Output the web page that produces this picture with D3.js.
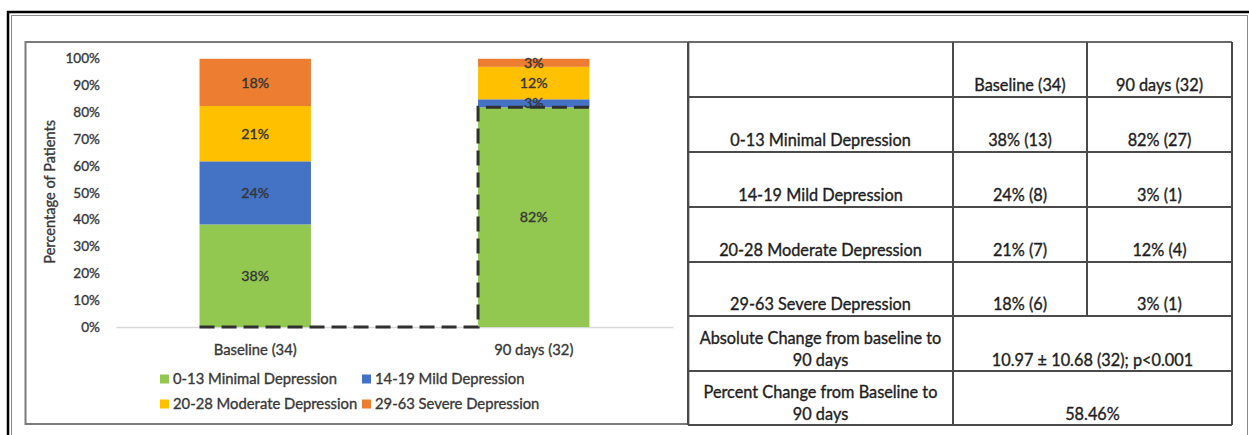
<!DOCTYPE html>
<html>
<head>
<meta charset="utf-8">
<script src="https://cdn.jsdelivr.net/npm/d3@7"></script>
<style>
  html, body { margin: 0; padding: 0; background: #fff; }
  svg { display: block; font-family: Lato, "Open Sans", sans-serif; }
  svg text { stroke: currentColor; stroke-width: 0.35px; }
</style>
</head>
<body>
<svg id="fig" width="1249" height="435"></svg>
<script>
// ---- data ----
const periods = ["Baseline (34)", "90 days (32)"];
const severity = ["0-13 Minimal Depression", "14-19 Mild Depression",
                  "20-28 Moderate Depression", "29-63 Severe Depression"];
const baselinePct = [38.2, 23.5, 20.6, 17.6];   // % of patients per severity band
const day90Pct    = [81.8, 3.0, 12.1, 3.0];
const colors = ["#92c850", "#4472c4", "#ffc000", "#ed7d31"];
const yTicks = [0, 10, 20, 30, 40, 50, 60, 70, 80, 90, 100];

// summary table
const tableHeader = ["", "Baseline (34)", "90 days (32)"];
const tableRowLabels = ["0-13 Minimal Depression", "14-19 Mild Depression",
                        "20-28 Moderate  Depression", "29-63 Severe Depression"];
const tableBaseline = ["38% (13)", "24% (8)", "21% (7)", "18% (6)"];
const tableDay90 = ["82% (27)", "3% (1)", "12% (4)", "3% (1)"];
const absChangeLabel = ["Absolute Change from baseline to", "90 days"];
const absChangeValue = "10.97 \u00b1 10.68 (32); p<0.001";
const pctChangeLabel = ["Percent Change from Baseline to", "90 days"];
const pctChangeValue = "58.46%";

const svg = d3.select("#fig");
const chartInk = "#383838";
const tableInk = "#1e1e1e";

// ---- outer frame ----
const frame = svg.append("g");
frame.append("line").attr("x1", 7).attr("x2", 1249).attr("y1", 12).attr("y2", 12)
  .attr("stroke", "#000").attr("stroke-width", 2.5);
frame.append("line").attr("x1", 8).attr("x2", 8).attr("y1", 11).attr("y2", 435)
  .attr("stroke", "#000").attr("stroke-width", 2.5);
frame.append("line").attr("x1", 11).attr("x2", 1248).attr("y1", 15.5).attr("y2", 15.5)
  .attr("stroke", "#8a8a8a").attr("stroke-width", 1);
frame.append("line").attr("x1", 11.5).attr("x2", 11.5).attr("y1", 15).attr("y2", 435)
  .attr("stroke", "#8a8a8a").attr("stroke-width", 1);
frame.append("line").attr("x1", 1247.5).attr("x2", 1247.5).attr("y1", 15).attr("y2", 435)
  .attr("stroke", "#8a8a8a").attr("stroke-width", 1);

// chart panel border
svg.append("rect").attr("x", 25.5).attr("y", 42).attr("width", 663).attr("height", 382)
  .attr("fill", "none").attr("stroke", "#7a7a7a").attr("stroke-width", 2);

// ---- stacked bar chart ----
const x = d3.scaleBand().domain(periods).range([116, 673])
  .paddingInner(0.6).paddingOuter(0.3);
const y = d3.scaleLinear().domain([0, 100]).range([327, 58.5]);

const rows = periods.map((p, i) => {
  const o = { period: p };
  severity.forEach((s, j) => { o[s] = (i === 0 ? baselinePct : day90Pct)[j]; });
  return o;
});
const stacked = d3.stack().keys(severity)(rows);

// category axis with its light baseline
const xAxis = d3.axisBottom(x).tickSize(0).tickPadding(17);
const gx = svg.append("g").attr("transform", `translate(0,${y(0)})`).call(xAxis);
gx.select(".domain").attr("stroke", "#d9d9d9").attr("stroke-width", 1.5);
gx.selectAll("text").attr("font-size", 14.8).attr("fill", chartInk).style("color", chartInk)
  .attr("font-family", "Lato, sans-serif");

const yAxis = d3.axisLeft(y).tickValues(yTicks).tickSize(0).tickPadding(16)
  .tickFormat(d => d + "%");
const gy = svg.append("g").attr("transform", `translate(${x.range()[0]},0)`).call(yAxis);
gy.select(".domain").remove();
gy.selectAll("text").attr("font-size", 13.6).attr("fill", chartInk).style("color", chartInk)
  .attr("font-family", "Lato, sans-serif");

svg.append("text")
  .attr("transform", `translate(51,${(y(0) + y(100)) / 2 - 1}) rotate(-90)`)
  .attr("text-anchor", "middle").attr("dominant-baseline", "middle")
  .attr("font-size", 14.6).attr("fill", chartInk).style("color", chartInk)
  .text("Percentage of Patients");

const layers = svg.append("g").selectAll("g").data(stacked).join("g")
  .attr("fill", (d, i) => colors[i]);
layers.selectAll("rect").data(d => d).join("rect")
  .attr("x", d => x(d.data.period))
  .attr("width", x.bandwidth())
  .attr("y", d => y(d[1]))
  .attr("height", d => y(d[0]) - y(d[1]));

const fmt = v => Math.round(v) + "%";
const labels = svg.append("g").attr("font-size", 14.2).attr("fill", "#353535")
  .style("color", "#353535").attr("text-anchor", "middle");
stacked.forEach(layer => {
  layer.forEach(d => {
    labels.append("text")
      .attr("x", x(d.data.period) + x.bandwidth() / 2)
      .attr("y", (y(d[0]) + y(d[1])) / 2)
      .attr("dy", "0.36em")
      .text(fmt(d[1] - d[0]));
  });
});

// dashed outline of the minimal-depression share
const p0 = periods[0], p1 = periods[1];
const minimalTop = day90Pct[0];
const dashPts = [
  [x(p0), y(0)],
  [x(p1), y(0)],
  [x(p1), y(minimalTop)],
  [x(p1) + x.bandwidth(), y(minimalTop)]
];
svg.append("path")
  .attr("d", d3.line()(dashPts))
  .attr("fill", "none").attr("stroke", "#303030").attr("stroke-width", 3)
  .attr("stroke-dasharray", "15,7");

// legend
const legend = svg.append("g").attr("font-size", 14.8).attr("fill", chartInk)
  .style("color", chartInk);
const legCols = [160, 362], legRows = [379, 404];
severity.forEach((s, i) => {
  const lx = legCols[i % 2], ly = legRows[Math.floor(i / 2)];
  legend.append("rect").attr("x", lx).attr("y", ly - 4.5).attr("width", 9).attr("height", 9)
    .attr("fill", colors[i]).style("stroke", "none");
  legend.append("text").attr("x", lx + 13).attr("y", ly).attr("dy", "0.36em").text(s);
});

// ---- summary table ----
const colX = [688, 953, 1087, 1232];
const rowY = [42, 97, 152, 207, 262, 316, 371, 425];
const tbl = svg.append("g");
const tline = "#4a4a4a";

const cellText = (cx, by, t) => tbl.append("text")
  .attr("x", cx).attr("y", by).attr("text-anchor", "middle")
  .attr("font-size", 16.3).attr("fill", tableInk).style("color", tableInk).text(t);

const mid = (a, b) => (a + b) / 2;
tableHeader.forEach((t, c) => cellText(mid(colX[c], colX[c + 1]), rowY[1] - 6, t));
tableRowLabels.forEach((t, r) => {
  const by = rowY[r + 2] - 6;
  cellText(mid(colX[0], colX[1]), by, t);
  cellText(mid(colX[1], colX[2]), by, tableBaseline[r]);
  cellText(mid(colX[2], colX[3]), by, tableDay90[r]);
});
[[absChangeLabel, absChangeValue, 5], [pctChangeLabel, pctChangeValue, 6]].forEach(([lab, val, r]) => {
  const by = rowY[r + 1] - 5;
  cellText(mid(colX[0], colX[1]), by - 22, lab[0]);
  cellText(mid(colX[0], colX[1]), by, lab[1]);
  cellText(mid(colX[1], colX[3]), by, val);
});

// grid lines
rowY.forEach((ry, i) => {
  tbl.append("line").attr("x1", colX[0]).attr("x2", colX[3]).attr("y1", ry).attr("y2", ry)
    .attr("stroke", i === 0 ? "#6a6a6a" : tline).attr("stroke-width", 2);
});
[0, 3].forEach(c => tbl.append("line").attr("x1", colX[c]).attr("x2", colX[c])
  .attr("y1", rowY[0]).attr("y2", rowY[7]).attr("stroke", tline).attr("stroke-width", 2));
[1, 2].forEach(c => tbl.append("line").attr("x1", colX[c]).attr("x2", colX[c])
  .attr("y1", rowY[0]).attr("y2", c === 1 ? rowY[7] : rowY[5])
  .attr("stroke", tline).attr("stroke-width", 2));
</script>
</body>
</html>
